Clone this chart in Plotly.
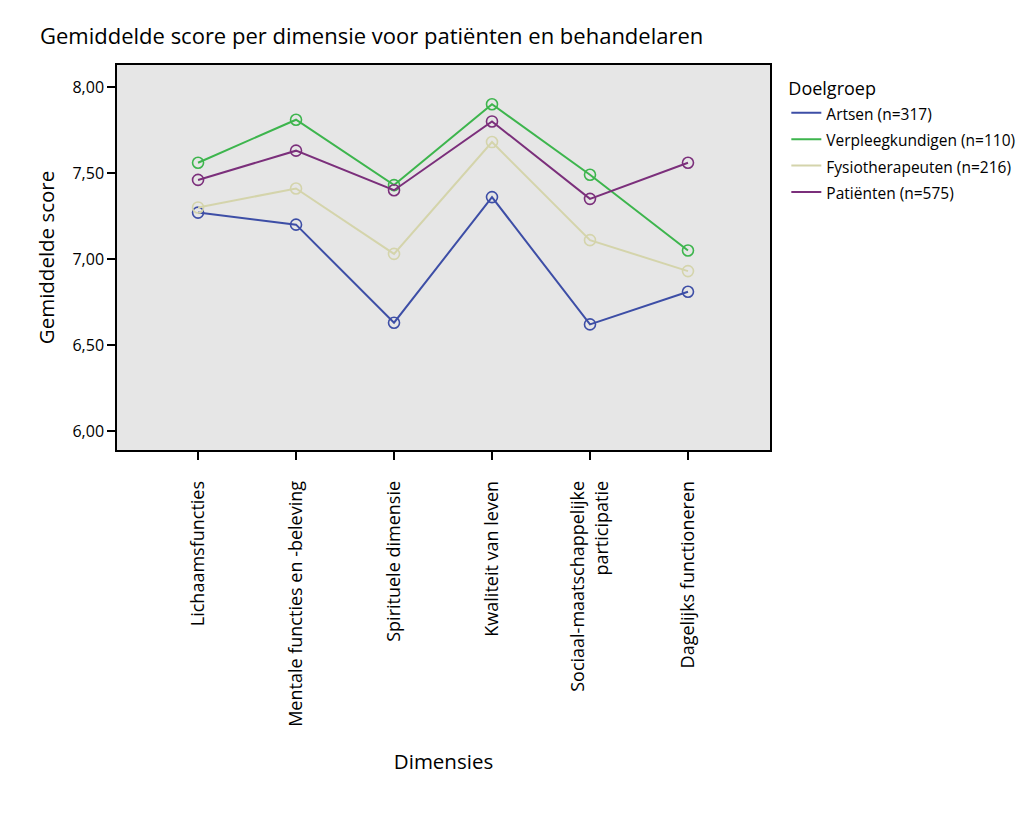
import plotly.graph_objects as go

# dimensies en gemiddelde scores per doelgroep
dimensies = ["Lichaamsfuncties", "Mentale functies en -beleving", "Spirituele dimensie",
             "Kwaliteit van leven", "Sociaal-maatschappelijke<br>participatie",
             "Dagelijks functioneren"]
groepen = ["Artsen (n=317)", "Verpleegkundigen (n=110)",
           "Fysiotherapeuten (n=216)", "Patiënten (n=575)"]
artsen = [7.27, 7.20, 6.63, 7.36, 6.62, 6.81]
verpleegkundigen = [7.56, 7.81, 7.43, 7.90, 7.49, 7.05]
fysiotherapeuten = [7.30, 7.41, 7.03, 7.68, 7.11, 6.93]
patienten = [7.46, 7.63, 7.40, 7.80, 7.35, 7.56]
kleuren = ["#3d4ea6", "#3db54d", "#d4d4ab", "#7b2f7b"]

font = "Open Sans"

fig = go.Figure()
for naam, waarden, kleur in zip(groepen, [artsen, verpleegkundigen, fysiotherapeuten, patienten], kleuren):
    fig.add_trace(go.Scatter(
        x=list(range(len(dimensies))), y=waarden, name=naam,
        mode="lines+markers", showlegend=False,
        line=dict(color=kleur, width=2),
        marker=dict(symbol="circle-open", size=11, color=kleur, line=dict(width=1.6)),
    ))
# legenda toont alleen lijnen
for naam, kleur in zip(groepen, kleuren):
    fig.add_trace(go.Scatter(x=[None], y=[None], mode="lines",
                             name="<span style='font-size:15.5px'>%s</span>" % naam,
                             line=dict(color=kleur, width=2)))

fig.update_layout(
    width=1024, height=820,
    margin=dict(l=109, r=262, t=57, b=378),
    paper_bgcolor="white", plot_bgcolor="#e6e6e6",
    separators=",.",
    font=dict(family=font, color="black", size=15),
    title=dict(text="Gemiddelde score per dimensie voor patiënten en behandelaren",
               x=32 / 1024, xanchor="left", y=1 - 28 / 820, yanchor="middle",
               font=dict(size=22)),
    legend=dict(title=dict(text="Doelgroep", font=dict(size=18)),
                x=1.025, xanchor="left", y=0.984, yanchor="top",
                font=dict(size=18), itemwidth=30, tracegroupgap=0,
                bgcolor="rgba(0,0,0,0)"),
    showlegend=True,
)

fig.update_xaxes(
    tickmode="array", tickvals=list(range(len(dimensies))), ticktext=dimensies,
    range=[-0.827, 5.837], tickangle=-90,
    showgrid=False, zeroline=False,
    showline=True, linecolor="black", linewidth=1.5, mirror=True,
    ticks="outside", ticklen=8, tickwidth=1.5, tickcolor="black",
    tickfont=dict(size=18), ticklabelstandoff=14,
    title=dict(text="Dimensies", font=dict(size=20.5), standoff=29),
)
fig.update_yaxes(
    range=[5.89, 8.128], tickvals=[6, 6.5, 7, 7.5, 8], tickformat=".2f",
    showgrid=False, zeroline=False,
    showline=True, linecolor="black", linewidth=1.5, mirror=True,
    ticks="outside", ticklen=8, tickwidth=1.5, tickcolor="black",
    tickfont=dict(size=16),
    title=dict(text="Gemiddelde score", font=dict(size=20.5), standoff=12),
)

fig.write_html("out.html")
